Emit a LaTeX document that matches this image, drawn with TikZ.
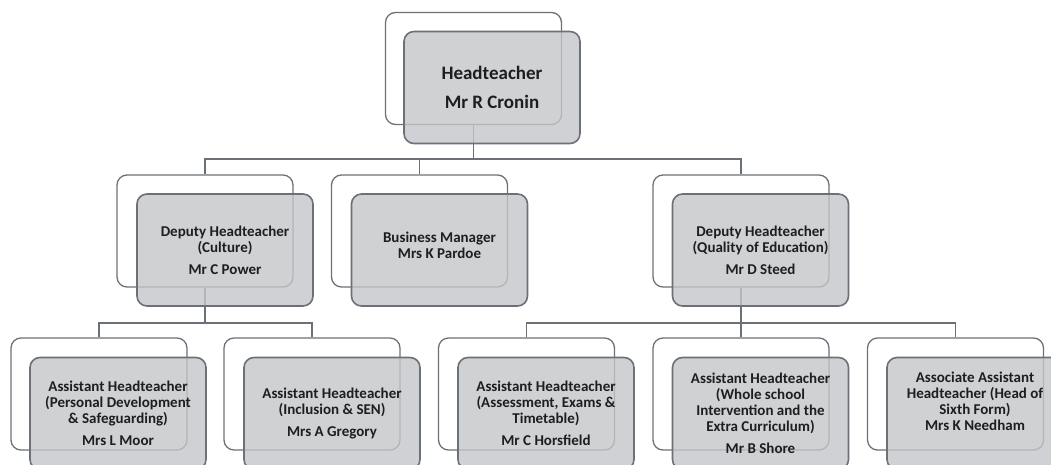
\documentclass[tikz,border=0pt]{standalone}
\usepackage{fontspec}
\setmainfont{Carlito}
\definecolor{edge}{RGB}{108,113,120}
\definecolor{frontfill}{RGB}{196,198,201}
\definecolor{txt}{RGB}{30,30,30}
\tikzset{
  backbox/.style={draw=edge, line width=1.3pt, fill=white, rounded corners=10pt,
    minimum width=176pt, minimum height=112pt, inner sep=0pt},
  frontbox/.style={draw=edge, line width=1.6pt, fill=frontfill, fill opacity=0.8,
    draw opacity=1, rounded corners=10pt, minimum width=176pt, minimum height=112pt, inner sep=0pt},
  lbl/.style={text=txt, font=\bfseries\fontsize{15}{16}\selectfont, align=center, inner sep=0pt},
  biglbl/.style={text=txt, font=\bfseries\fontsize{19}{23}\selectfont, align=center, inner sep=0pt},
  conn/.style={draw=edge, line width=1.3pt},
}
\begin{document}
\begin{tikzpicture}[x=1pt,y=-1pt]
\useasboundingbox (0,0) rectangle (1051,465);
\clip (0,0) rectangle (1051,465);
% back boxes
\node[backbox] (hb) at (473.5,68.5) {};
\node[backbox] (cb) at (205,231) {};
\node[backbox] (bb) at (419.5,231) {};
\node[backbox] (qb) at (741,231) {};
\node[backbox] (a1b) at (99,394) {};
\node[backbox] (a2b) at (312,394) {};
\node[backbox] (a3b) at (526.5,394) {};
\node[backbox] (a4b) at (741,394) {};
\node[backbox] (a5b) at (955.5,394) {};
% bus coordinates
\coordinate (bus1) at (0,159);
\coordinate (bus2) at (0,323);
% connectors
\draw[conn] (hb.south) -- (hb.south |- bus1) -| (cb.north);
\draw[conn] (hb.south) -- (hb.south |- bus1) -| (bb.north);
\draw[conn] (hb.south) -- (hb.south |- bus1) -| (qb.north);
\draw[conn] (cb.south) -- (cb.south |- bus2) -| (a1b.north);
\draw[conn] (cb.south) -- (cb.south |- bus2) -| (a2b.north);
\draw[conn] (qb.south) -- (qb.south |- bus2) -| (a3b.north);
\draw[conn] (qb.south) -- (qb.south |- bus2) -| (a4b.north);
\draw[conn] (qb.south) -- (qb.south |- bus2) -| (a5b.north);
% front boxes
\node[frontbox] (hf) at (492,87.5) {};
\node[frontbox] (cf) at (225,250) {};
\node[frontbox] (bf) at (439.5,250) {};
\node[frontbox] (qf) at (760.5,250) {};
\node[frontbox] (a1f) at (118,413.5) {};
\node[frontbox] (a2f) at (332,413.5) {};
\node[frontbox] (a3f) at (546,413.5) {};
\node[frontbox] (a4f) at (760.5,413.5) {};
\node[frontbox] (a5f) at (975,413.5) {};
% texts
\node[biglbl] (ht) at (hf.center) {Headteacher\\[6pt]Mr R Cronin};
\node[lbl] (ct) at (cf.center) {Deputy Headteacher\\(Culture)\\[6pt]Mr C Power};
\node[lbl, yshift=5pt] (bt) at (bf.center) {Business Manager\\Mrs K Pardoe};
\node[lbl] (qt) at (qf.center) {Deputy Headteacher\\(Quality of Education)\\[6pt]Mr D Steed};
\node[lbl] (a1t) at (a1f.center) {Assistant Headteacher\\(Personal Development\\\& Safeguarding)\\[6pt]Mrs L Moor};
\node[lbl] (a2t) at (a2f.center) {Assistant Headteacher\\(Inclusion \& SEN)\\[6pt]Mrs A Gregory};
\node[lbl] (a3t) at (a3f.center) {Assistant Headteacher\\(Assessment, Exams \&\\Timetable)\\[6pt]Mr C Horsfield};
\node[lbl] (a4t) at (a4f.center) {Assistant Headteacher\\(Whole school\\Intervention and the\\Extra Curriculum)\\[6pt]Mr B Shore};
\node[lbl, yshift=12pt] (a5t) at (a5f.center) {Associate Assistant\\Headteacher (Head of\\Sixth Form)\\Mrs K Needham};
\end{tikzpicture}
\end{document}
